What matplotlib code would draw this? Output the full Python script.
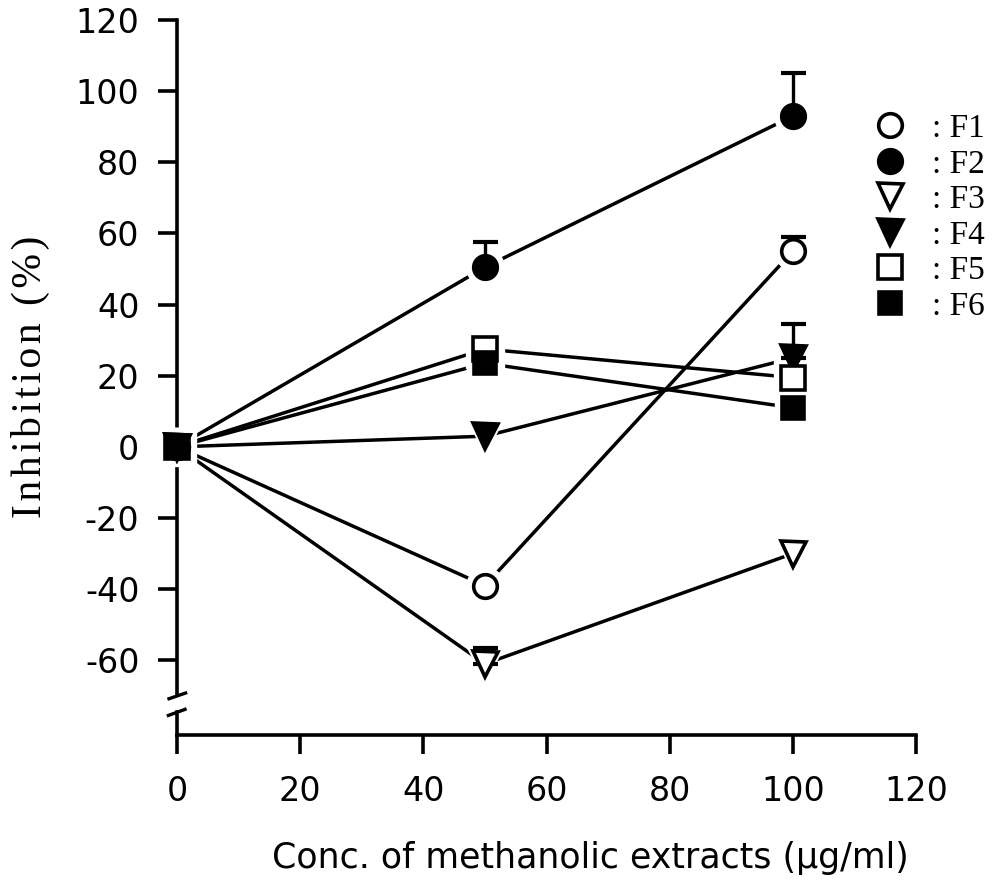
import matplotlib
matplotlib.use("Agg")
import matplotlib.pyplot as plt
from matplotlib.lines import Line2D

# ---- data ----
conc = [0, 50, 100]
series_names = ["F1", "F2", "F3", "F4", "F5", "F6"]
f1 = [0, -39, 55]
f1_err = [0, 0, 4]
f2 = [0, 50.5, 93]
f2_err = [0, 7, 12]
f3 = [0, -61, -30]
f3_err = [0, 4.5, 0]
f4 = [0, 3, 25]
f4_err = [0, 0, 9.5]
f5 = [0, 27.5, 19.5]
f5_err = [0, 0, 0]
f6 = [0, 23.5, 11]
f6_err = [0, 0, 0]
x_ticks = [0, 20, 40, 60, 80, 100, 120]
y_ticks = [-60, -40, -20, 0, 20, 40, 60, 80, 100, 120]

values = [f1, f2, f3, f4, f5, f6]
errors = [f1_err, f2_err, f3_err, f4_err, f5_err, f6_err]
markers = ["o", "o", "v", "v", "s", "s"]
fills = ["white", "black", "white", "black", "white", "black"]
msizes = [17, 17, 18, 18, 17, 16]

plt.rcParams["font.family"] = "DejaVu Sans"

fig = plt.figure(figsize=(10.06, 8.84), dpi=100)
ax = fig.add_axes([177 / 1006, 1 - 735 / 884, (916 - 177) / 1006, (735 - 20) / 884])
ax.set_xlim(0, 120)
ax.set_ylim(-81, 120)

lw = 2.5
for v in values:
    ax.plot(conc, v, color="black", lw=lw, zorder=1, clip_on=False)
for v, m, ms in zip(values, markers, msizes):
    ax.plot(conc, v, ls="none", marker=m, ms=ms + 10, mfc="white", mec="white",
            zorder=2, clip_on=False)
for v, e in zip(values, errors):
    idx = [i for i, ev in enumerate(e) if ev > 0]
    if idx:
        ax.errorbar([conc[i] for i in idx], [v[i] for i in idx],
                    yerr=[[0] * len(idx), [e[i] for i in idx]], fmt="none",
                    ecolor="black", elinewidth=2.4, capsize=9, capthick=3, zorder=3)
for v, m, fc, ms in zip(values, markers, fills, msizes):
    ax.plot(conc, v, ls="none", marker=m, ms=ms, mfc=fc, mec="black", mew=2.6,
            zorder=4, clip_on=False)

# spines and axis break
for s in ["top", "right", "left"]:
    ax.spines[s].set_visible(False)
ax.spines["bottom"].set_linewidth(2.6)
break_hi = -69.5
break_lo = -74.5
ax.plot([0, 0], [break_hi, 120], color="black", lw=2.6, clip_on=False, zorder=0)
ax.plot([0, 0], [-81, break_lo], color="black", lw=2.6, clip_on=False, zorder=0)
ax.plot([-1.3, 1.4], [break_hi - 1.3, break_hi + 0.3], color="black", lw=2.4, clip_on=False)
ax.plot([-1.4, 1.3], [break_lo - 1.0, break_lo + 0.7], color="black", lw=2.4, clip_on=False)

ax.set_xticks(x_ticks)
ax.set_xticklabels([str(t) for t in x_ticks])
ax.set_yticks(y_ticks)
ax.set_yticklabels([str(t) for t in y_ticks])
ax.tick_params(axis="both", direction="out", length=14, width=2.6, labelsize=24)
ax.tick_params(axis="y", pad=13)
ax.tick_params(axis="x", pad=15)

ylabel = "\u200a".join("Inhibition (%)")
fig.text(30 / 1006, 1 - 377 / 884, ylabel, rotation=90, ha="center",
         va="center", fontsize=30, family=["Liberation Serif", "DejaVu Serif"])
fig.text(590 / 1006, 1 - 858 / 884, "Conc. of methanolic extracts (µg/ml)",
         ha="center", va="center", fontsize=25)

handles = [Line2D([], [], ls="none", marker=m, ms=ms, mfc=fc, mec="black", mew=2.6)
           for m, fc, ms in zip(markers, fills, msizes)]
ax.legend(handles, [": " + n for n in series_names], loc="upper left",
          bbox_to_anchor=(857 / 1006, 1 - 97 / 884), bbox_transform=fig.transFigure,
          frameon=False, handlelength=1.0, handletextpad=0.75, labelspacing=0.15,
          borderpad=0, prop={"family": "Liberation Serif", "size": 24})

fig.savefig("out.png", dpi=100)
